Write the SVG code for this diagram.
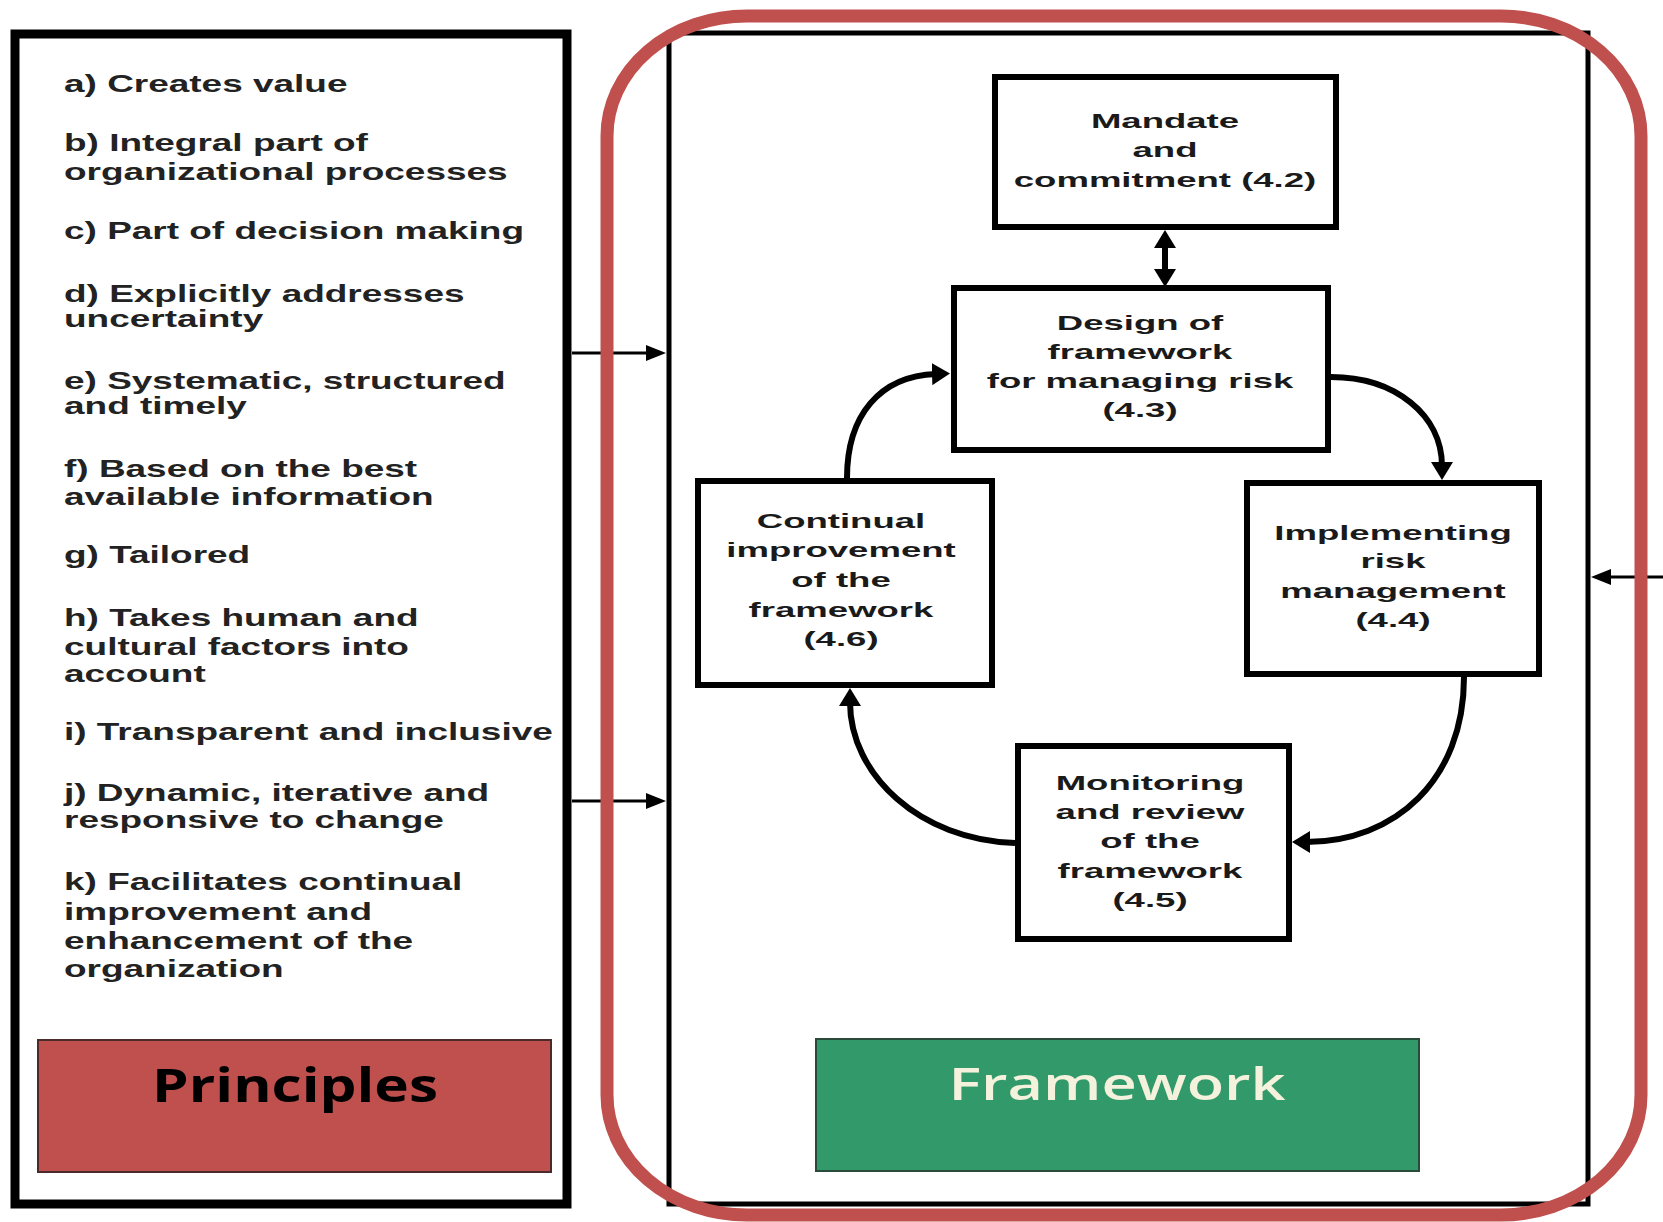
<svg xmlns="http://www.w3.org/2000/svg" width="1663" height="1222" viewBox="0 0 1663 1222">
<style>
.item{font-family:"Liberation Sans",Arial,sans-serif;font-weight:bold;font-size:24px;fill:#222}
.nt{font-family:"Liberation Sans",Arial,sans-serif;font-weight:bold;font-size:21px;fill:#1a1a1a;text-anchor:middle}
.box{fill:#fff;stroke:#000;stroke-width:6}
.conn{fill:none;stroke:#000;stroke-width:6}
.thin{fill:none;stroke:#000;stroke-width:3}
.title{font-family:"Open Sans","Liberation Sans",sans-serif;font-size:46px;text-anchor:middle}
</style>
<defs>
<marker id="ah" markerUnits="userSpaceOnUse" markerWidth="20" markerHeight="22" refX="4" refY="11" orient="auto-start-reverse">
<path d="M0,0 L18,11 L0,22 z" fill="#000"/>
</marker>
<marker id="as" markerUnits="userSpaceOnUse" markerWidth="20" markerHeight="16" refX="4" refY="8" orient="auto">
<path d="M0,0 L20,8 L0,16 z" fill="#000"/>
</marker>
</defs>
<rect width="1663" height="1222" fill="#fff"/>

<g id="principles-panel">
<rect x="15" y="34" width="552" height="1170" fill="#fff" stroke="#000" stroke-width="9"/>
<text class="item" transform="translate(64,0) scale(1.54,1)"><tspan x="0" y="92">a) Creates value</tspan></text>
<text class="item" transform="translate(64,0) scale(1.54,1)"><tspan x="0" y="151">b) Integral part of</tspan><tspan x="0" y="180">organizational processes</tspan></text>
<text class="item" transform="translate(64,0) scale(1.54,1)"><tspan x="0" y="239">c) Part of decision making</tspan></text>
<text class="item" transform="translate(64,0) scale(1.54,1)"><tspan x="0" y="302">d) Explicitly addresses</tspan><tspan x="0" y="327">uncertainty</tspan></text>
<text class="item" transform="translate(64,0) scale(1.54,1)"><tspan x="0" y="389">e) Systematic, structured</tspan><tspan x="0" y="414">and timely</tspan></text>
<text class="item" transform="translate(64,0) scale(1.54,1)"><tspan x="0" y="477">f) Based on the best</tspan><tspan x="0" y="505">available information</tspan></text>
<text class="item" transform="translate(64,0) scale(1.54,1)"><tspan x="0" y="563">g) Tailored</tspan></text>
<text class="item" transform="translate(64,0) scale(1.54,1)"><tspan x="0" y="626">h) Takes human and</tspan><tspan x="0" y="655">cultural factors into</tspan><tspan x="0" y="682">account</tspan></text>
<text class="item" transform="translate(64,0) scale(1.54,1)"><tspan x="0" y="740">i) Transparent and inclusive</tspan></text>
<text class="item" transform="translate(64,0) scale(1.54,1)"><tspan x="0" y="801">j) Dynamic, iterative and</tspan><tspan x="0" y="828">responsive to change</tspan></text>
<text class="item" transform="translate(64,0) scale(1.54,1)"><tspan x="0" y="890">k) Facilitates continual</tspan><tspan x="0" y="920">improvement and</tspan><tspan x="0" y="949">enhancement of the</tspan><tspan x="0" y="977">organization</tspan></text>
</g>

<g id="principles-label">
<rect x="38" y="1040" width="513" height="132" fill="#c0504d" stroke="#4a2a2a" stroke-width="2"/>
<text class="title" x="295" y="1102" font-weight="bold" fill="#000" textLength="286" lengthAdjust="spacingAndGlyphs">Principles</text>
</g>

<g id="framework-panel">
<rect x="669" y="33" width="919" height="1171" fill="#fff" stroke="#000" stroke-width="5"/>
</g>

<g id="framework-label">
<rect x="816" y="1039" width="603" height="132" fill="#31996a" stroke="#2a4a3a" stroke-width="2"/>
<text class="title" x="1117" y="1100" font-weight="600" fill="#f4f1dc" textLength="337" lengthAdjust="spacingAndGlyphs">Framework</text>
</g>

<g id="mandate">
<rect class="box" x="995" y="77" width="341" height="150"/>
<text class="nt" transform="translate(1165,0) scale(1.74,1)"><tspan x="0" y="128">Mandate</tspan><tspan x="0" y="157">and</tspan><tspan x="0" y="187">commitment (4.2)</tspan></text>
</g>

<g id="design">
<rect class="box" x="954" y="288" width="374" height="162"/>
<text class="nt" transform="translate(1140,0) scale(1.74,1)"><tspan x="0" y="330">Design of</tspan><tspan x="0" y="359">framework</tspan><tspan x="0" y="388">for managing risk</tspan><tspan x="0" y="417">(4.3)</tspan></text>
</g>

<g id="continual">
<rect class="box" x="698" y="481" width="294" height="204"/>
<text class="nt" transform="translate(841,0) scale(1.74,1)"><tspan x="0" y="528">Continual</tspan><tspan x="0" y="557">improvement</tspan><tspan x="0" y="587">of the</tspan><tspan x="0" y="617">framework</tspan><tspan x="0" y="646">(4.6)</tspan></text>
</g>

<g id="implementing">
<rect class="box" x="1247" y="483" width="292" height="191"/>
<text class="nt" transform="translate(1393,0) scale(1.74,1)"><tspan x="0" y="540">Implementing</tspan><tspan x="0" y="568">risk</tspan><tspan x="0" y="598">management</tspan><tspan x="0" y="627">(4.4)</tspan></text>
</g>

<g id="monitoring">
<rect class="box" x="1018" y="746" width="271" height="193"/>
<text class="nt" transform="translate(1150,0) scale(1.74,1)"><tspan x="0" y="790">Monitoring</tspan><tspan x="0" y="819">and review</tspan><tspan x="0" y="848">of the</tspan><tspan x="0" y="878">framework</tspan><tspan x="0" y="907">(4.5)</tspan></text>
</g>

<g id="connectors">
<line class="conn" x1="1165" y1="244" x2="1165" y2="273" marker-start="url(#ah)" marker-end="url(#ah)"/>
<path class="conn" d="M847 478 C847 415 880 376 936 374" marker-end="url(#ah)"/>
<path class="conn" d="M1331 377 C1395 377 1442 415 1442 466" marker-end="url(#ah)"/>
<path class="conn" d="M1464 677 C1464 780 1395 842 1306 842" marker-end="url(#ah)"/>
<path class="conn" d="M1015 843 C920 840 850 775 850 702" marker-end="url(#ah)"/>
<line class="thin" x1="572" y1="353" x2="650" y2="353" marker-end="url(#as)"/>
<line class="thin" x1="572" y1="801" x2="650" y2="801" marker-end="url(#as)"/>
<line class="thin" x1="1663" y1="577" x2="1607" y2="577" marker-end="url(#as)"/>
</g>

<g id="framework-outline">
<rect x="607" y="16" width="1034" height="1199" rx="140" ry="120" fill="none" stroke="#c0504d" stroke-width="13"/>
</g>
</svg>
